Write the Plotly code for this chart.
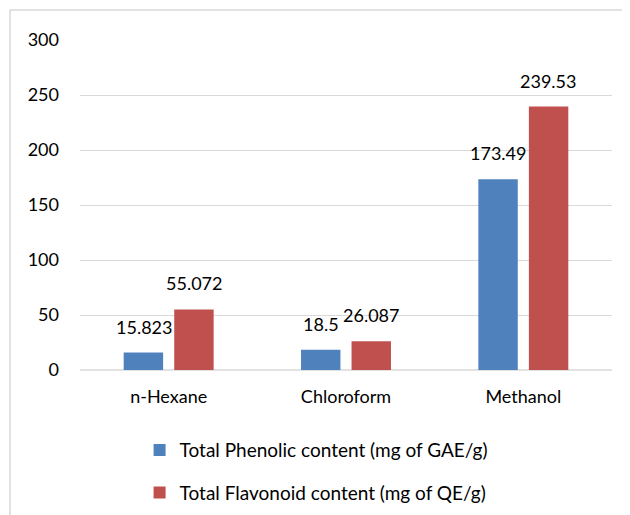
import plotly.graph_objects as go

categories = ["n-Hexane", "Chloroform", "Methanol"]
phenolic = [15.823, 18.5, 173.49]
flavonoid = [55.072, 26.087, 239.53]
phenolic_labels = ["15.823", "18.5", "173.49"]
flavonoid_labels = ["55.072", "26.087", "239.53"]
series_names = ["Total Phenolic content (mg of GAE/g)", "Total Flavonoid content (mg of QE/g)"]
y_ticks = [0, 50, 100, 150, 200, 250, 300]

FONT = "Lato"
FS = 18
fig = go.Figure()
fig.add_trace(go.Bar(x=categories, y=phenolic, name=series_names[0],
                     marker=dict(color="#4f81bd", line=dict(width=0)),
                     legendgroup="a"))
fig.add_trace(go.Bar(x=categories, y=flavonoid, name=series_names[1],
                     marker=dict(color="#c0504d", line=dict(width=0)),
                     legendgroup="b"))

ann = []
for c, v, t in zip(categories, phenolic, phenolic_labels):
    ann.append(dict(x=c, y=v, text=t, showarrow=False, xshift=-25, yshift=13,
                    yanchor="bottom", font=dict(family=FONT, size=FS, color="#000")))
for c, v, t in zip(categories, flavonoid, flavonoid_labels):
    ann.append(dict(x=c, y=v, text=t, showarrow=False, xshift=25, yshift=13,
                    yanchor="bottom", font=dict(family=FONT, size=FS, color="#000")))

fig.update_layout(
    width=630, height=515,
    margin=dict(l=72, r=26, t=32, b=153, autoexpand=False),
    paper_bgcolor="white", plot_bgcolor="white",
    barmode="group", bargap=0.43, bargroupgap=0.22,
    font=dict(family=FONT, size=FS, color="#000"),
    annotations=ann,
    showlegend=True,
    legend=dict(orientation="v", x=0.112, xanchor="left", y=-0.185, yanchor="top",
                tracegroupgap=15, font=dict(family=FONT, size=19, color="#000"),
                itemwidth=30, bgcolor="rgba(0,0,0,0)"),
    xaxis=dict(showline=False, ticks="", showgrid=False, ticklabelstandoff=14,
               automargin=False, tickfont=dict(family=FONT, size=FS)),
    yaxis=dict(range=[0, 300], tickvals=y_ticks, showgrid=True, gridcolor="#d9d9d9",
               gridwidth=1.3, zeroline=False, showline=False, ticks="",
               automargin=False, ticklabelstandoff=20, tickfont=dict(family=FONT, size=FS)),
    shapes=[dict(type="line", xref="paper", yref="paper", x0=0, x1=1, y0=0, y1=0,
                 line=dict(color="#d9d9d9", width=1.3), layer="below"),
            dict(type="rect", xref="paper", yref="paper",
                 x0=(2 - 72) / 532, x1=(640 - 72) / 532,
                 y0=-0.5, y1=(330 + 30) / 330,
                 line=dict(color="#d9d9d9", width=1.5), fillcolor="rgba(0,0,0,0)")],
)
fig.write_html("out.html")
